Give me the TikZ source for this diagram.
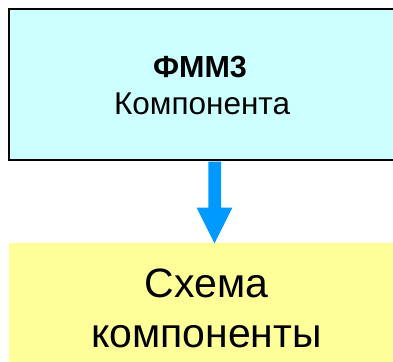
\documentclass[tikz,border=0pt]{standalone}
\usepackage{fontspec}
\setmainfont{Liberation Sans}
\definecolor{boxcyan}{HTML}{CCFFFF}
\definecolor{boxyellow}{HTML}{FFFF99}
\definecolor{arrowblue}{HTML}{0099FF}
\begin{document}
\begin{tikzpicture}[x=1pt,y=-1pt,
  topbox/.style={fill=boxcyan,draw=black,line width=2.4pt},
  botbox/.style={fill=boxyellow,draw=none},
  toptext/.style={font=\fontsize{31.5}{36}\selectfont,anchor=base,inner sep=0pt},
  bottext/.style={font=\fontsize{41}{48}\selectfont,anchor=base,inner sep=0pt},
  bigarrow/.style={fill=arrowblue,draw=none}]
\useasboundingbox (0,0) rectangle (393,361);
\clip (0,0) rectangle (393,361);
\draw[topbox] (9,9) rectangle (396,160);
\fill[botbox] (9.3,243.3) rectangle (400,362);
\node[toptext,font=\fontsize{30.5}{36}\selectfont] (t1) at (200,77) {\textbf{ФММ3}};
\node[toptext] (t2) at (202,114.5) {Компонента};
\node[bottext] (b1) at (206.5,297) {Схема};
\node[bottext] (b2) at (206.5,347) {компоненты};
\fill[bigarrow] (208.3,161.5) -- (221,161.5) -- (221,207.7) -- (232.3,207.7)
  -- (214.5,243.3) -- (196.7,207.7) -- (208.3,207.7) -- cycle;
\end{tikzpicture}
\end{document}
